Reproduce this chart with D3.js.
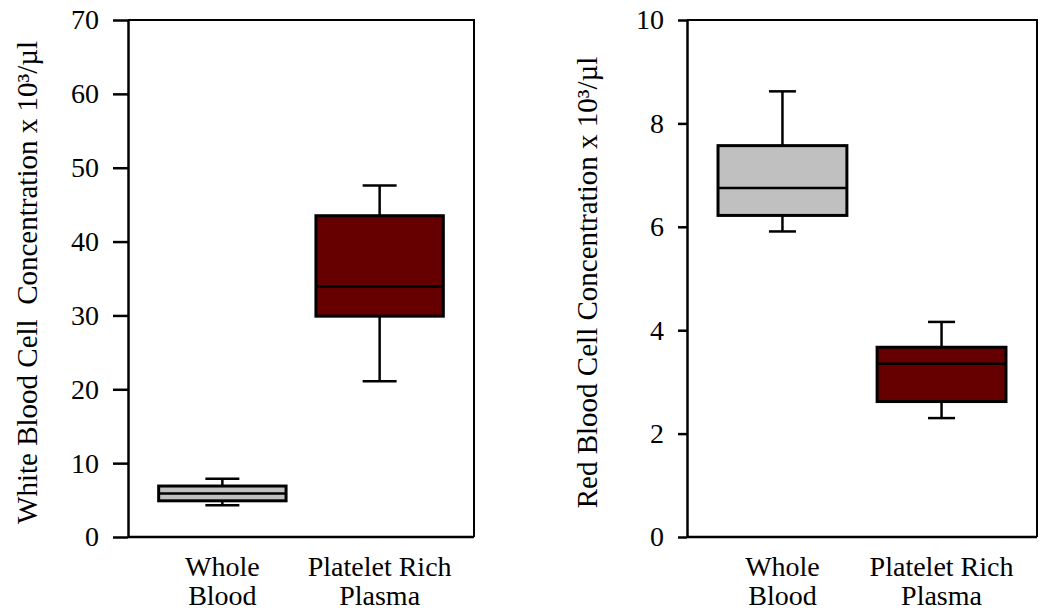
<!DOCTYPE html>
<html>
<head>
<meta charset="utf-8">
<script src="https://cdn.jsdelivr.net/npm/d3@7"></script>
<style>
  body { margin: 0; background: #fff; }
  text { font-family: "Liberation Serif", "Times New Roman", serif; fill: #000; }
</style>
</head>
<body>
<div id="chart"></div>
<script>
// groups and colours
var groups = ["Whole Blood", "Platelet Rich Plasma"];
var groupLines = [["Whole", "Blood"], ["Platelet Rich", "Plasma"]];
var groupColors = ["#c0c0c0", "#660000"];

// white blood cells (x 10^3/µl): min, q1, median, q3, max
var wbcMin = [4.3, 21.1];
var wbcQ1 = [4.9, 29.9];
var wbcMed = [5.9, 33.9];
var wbcQ3 = [6.9, 43.5];
var wbcMax = [7.9, 47.6];
var wbcTicks = [0, 10, 20, 30, 40, 50, 60, 70];

// red blood cells (x 10^3/µl)
var rbcMin = [5.91, 2.30];
var rbcQ1 = [6.22, 2.62];
var rbcMed = [6.75, 3.35];
var rbcQ3 = [7.57, 3.67];
var rbcMax = [8.62, 4.16];
var rbcTicks = [0, 2, 4, 6, 8, 10];

var svg = d3.select("#chart").append("svg")
    .attr("width", 1044)
    .attr("height", 613);

function panel(opt) {
    var x = d3.scalePoint().domain(groups).range([opt.left, opt.right]).padding(0.6);
    var y = d3.scaleLinear().domain([0, opt.max]).range([opt.bottom, opt.top]);
    var g = svg.append("g");

    // frame (top + right)
    g.append("path")
        .attr("d", "M" + opt.left + "," + opt.top + "H" + opt.right + "V" + opt.bottom)
        .attr("fill", "none").attr("stroke", "#000").attr("stroke-width", 2);

    // bottom line
    g.append("line")
        .attr("x1", opt.left).attr("x2", opt.right)
        .attr("y1", opt.bottom).attr("y2", opt.bottom)
        .attr("stroke", "#000").attr("stroke-width", 2.5);

    // y axis
    var ax = g.append("g")
        .attr("transform", "translate(" + opt.left + ",0)")
        .call(d3.axisLeft(y).tickValues(opt.ticks).tickSize(opt.tickLen).tickPadding(14).tickSizeOuter(0));
    ax.attr("font-family", "Liberation Serif").attr("font-size", 28);
    ax.select(".domain").attr("stroke-width", 2.5);
    ax.selectAll(".tick line").attr("stroke-width", 2.5);

    // y title
    g.append("text")
        .attr("transform", "translate(" + opt.titleX + "," + ((opt.top + opt.bottom) / 2 + 4) + ") rotate(-90)")
        .attr("text-anchor", "middle")
        .style("font-size", "29px")
        .style("white-space", "pre")
        .text(opt.title);

    var boxW = x.step() * 0.81;
    var data = groups.map(function(d, i) {
        return { name: d, i: i, min: opt.min[i], q1: opt.q1[i], med: opt.med[i], q3: opt.q3[i], max: opt.max2[i] };
    });

    var b = g.selectAll("g.box").data(data).enter().append("g").attr("class", "box");

    // whiskers
    b.append("line")
        .attr("x1", function(d) { return x(d.name); })
        .attr("x2", function(d) { return x(d.name); })
        .attr("y1", function(d) { return y(d.max); })
        .attr("y2", function(d) { return y(d.min); })
        .attr("stroke", "#000").attr("stroke-width", 2.5);
    ["min", "max"].forEach(function(k) {
        b.append("line")
            .attr("x1", function(d) { return x(d.name) - opt.capW / 2; })
            .attr("x2", function(d) { return x(d.name) + opt.capW / 2; })
            .attr("y1", function(d) { return y(d[k]); })
            .attr("y2", function(d) { return y(d[k]); })
            .attr("stroke", "#000").attr("stroke-width", 2.5);
    });

    // boxes
    b.append("rect")
        .attr("x", function(d) { return x(d.name) - boxW / 2; })
        .attr("width", boxW)
        .attr("y", function(d) { return y(d.q3); })
        .attr("height", function(d) { return y(d.q1) - y(d.q3); })
        .attr("fill", function(d) { return groupColors[d.i]; })
        .attr("stroke", "#000").attr("stroke-width", 3);

    // medians
    b.append("line")
        .attr("x1", function(d) { return x(d.name) - boxW / 2; })
        .attr("x2", function(d) { return x(d.name) + boxW / 2; })
        .attr("y1", function(d) { return y(d.med); })
        .attr("y2", function(d) { return y(d.med); })
        .attr("stroke", "#000").attr("stroke-width", 2.5);

    // category labels
    var lab = g.selectAll("text.cat").data(data).enter().append("text")
        .attr("class", "cat")
        .attr("text-anchor", "middle")
        .style("font-size", "28px");
    lab.selectAll("tspan").data(function(d) { return groupLines[d.i].map(function(t) { return { t: t, x: x(d.name) }; }); })
        .enter().append("tspan")
        .attr("x", function(d) { return d.x; })
        .attr("y", function(d, j) { return opt.bottom + 39 + j * 29; })
        .text(function(d) { return d.t; });
}

panel({
    left: 128, right: 474, top: 20, bottom: 537,
    max: 70, ticks: wbcTicks, tickLen: 15, capW: 34, titleX: 37,
    title: "White Blood Cell  Concentration x 10\u00b3/\u00b5l",
    min: wbcMin, q1: wbcQ1, med: wbcMed, q3: wbcQ3, max2: wbcMax
});

panel({
    left: 687, right: 1037, top: 20, bottom: 537,
    max: 10, ticks: rbcTicks, tickLen: 9, capW: 27, titleX: 597,
    title: "Red Blood Cell Concentration x 10\u00b3/\u00b5l",
    min: rbcMin, q1: rbcQ1, med: rbcMed, q3: rbcQ3, max2: rbcMax
});
</script>
</body>
</html>
